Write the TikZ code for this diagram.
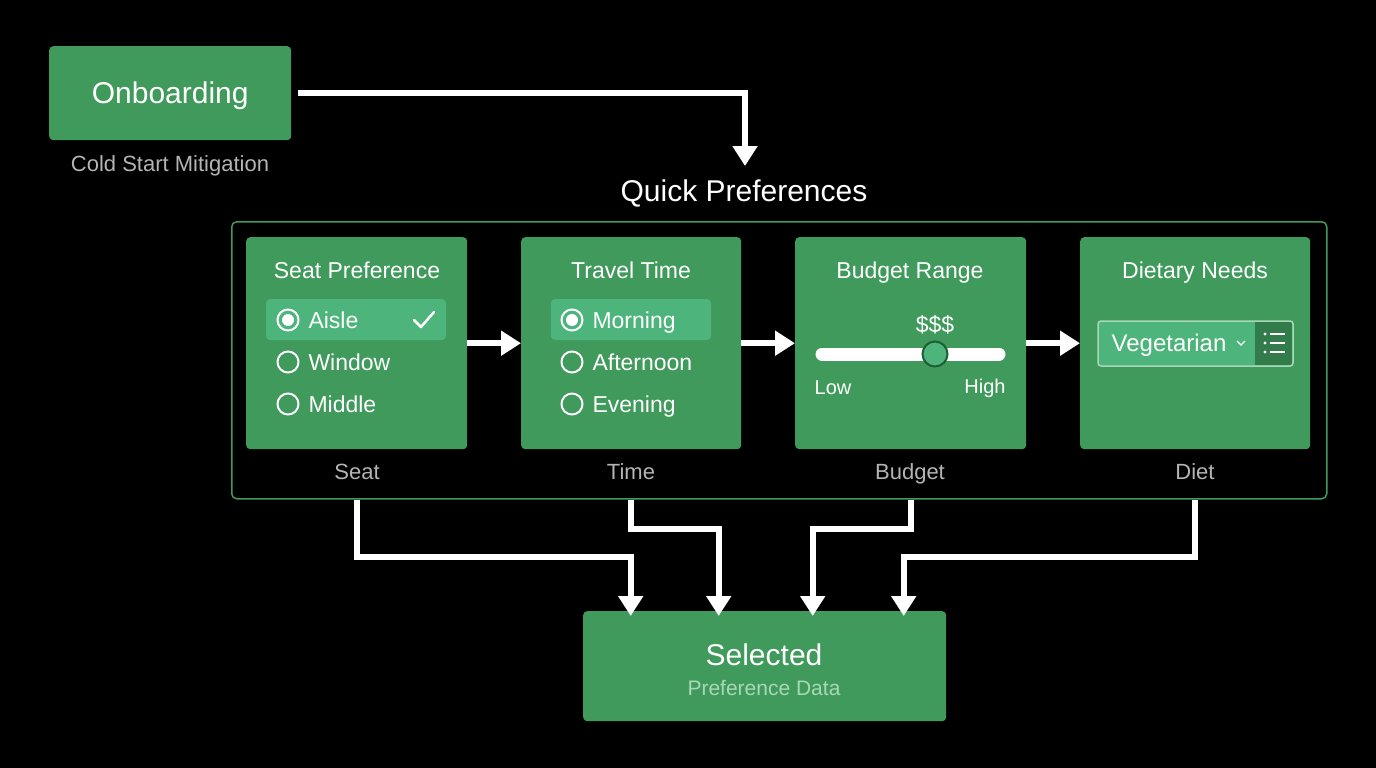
\documentclass[tikz,border=0pt]{standalone}
\usepackage{fontspec}
\setmainfont{Liberation Sans}
\usetikzlibrary{arrows.meta,positioning,calc}
\definecolor{cardgreen}{HTML}{3F9A5C}
\definecolor{hlgreen}{HTML}{4DB57B}
\definecolor{darkgreen}{HTML}{1F5E34}
\definecolor{softgray}{HTML}{B4B4B4}
\definecolor{palegreen}{HTML}{A8D8B5}
\tikzset{
  card/.style={fill=cardgreen, rounded corners=4pt, inner sep=0pt, anchor=north west},
  title/.style={text=white, font=\fontsize{23}{27}\selectfont, text height=20pt, text depth=3pt},
  option/.style={text=white, font=\fontsize{23}{27}\selectfont, anchor=west, text height=20pt, text depth=3pt},
  caption/.style={text=softgray, font=\fontsize{22}{26}\selectfont, text height=20pt, text depth=3pt},
  radio/.style={draw=white, line width=2pt, circle, minimum size=21pt, inner sep=0pt},
  flow/.style={draw=white, line width=6pt, -{Triangle[width=24pt,length=20pt]}},
}
\begin{document}
\begin{tikzpicture}[x=1pt,y=-1pt]
    \fill[black] (0,0) rectangle (1376,768);
    \useasboundingbox (0,0) rectangle (1376,768);

    % top: onboarding
    \node[card, minimum width=242pt, minimum height=94pt] (onb) at (49,46) {};
    \node[text=white, font=\fontsize{30}{35}\selectfont] at ([yshift=-3pt]onb.center) {Onboarding};
    \node[caption] (cold) at (170,163) {Cold Start Mitigation};
    \node[text=white, font=\fontsize{30}{35}\selectfont] (qp) at (744,193) {Quick Preferences};
    \coordinate (qpin) at (745,166);
    \draw[flow] ([xshift=7pt]onb.east) -| (qpin);

    % container and cards
    \node[draw=cardgreen, line width=1.5pt, rounded corners=5pt, minimum width=1095pt, minimum height=277pt, anchor=north west] (frame) at (231,221) {};
    \node[card, minimum width=221pt, minimum height=212pt] (seat) at (246,237) {};
    \node[card, minimum width=220pt, minimum height=212pt] (time) at (521,237) {};
    \node[card, minimum width=231pt, minimum height=212pt] (budget) at (795,237) {};
    \node[card, minimum width=230pt, minimum height=212pt] (diet) at (1080,237) {};

    \node[title] at (357,270) {Seat Preference};
    \node[title] at (631,270) {Travel Time};
    \node[title] at (910,270) {Budget Range};
    \node[title] at (1195,270) {Dietary Needs};

    \node[caption] at (357,471) {Seat};
    \node[caption] at (631,471) {Time};
    \node[caption] at (910,471) {Budget};
    \node[caption] at (1195,471) {Diet};

    % seat options
    \fill[hlgreen, rounded corners=4pt] (266,299) rectangle (446,340);
    \foreach \y/\t in {320/Aisle,362/Window,404/Middle} {
        \node[radio] (s\y) at (288,\y) {};
        \node[option] at (305,\y) {\t};
    }
    \fill[white] (s320) circle (6pt);
    \draw[white, line width=2.5pt, line cap=round, line join=round] (414,320) -- (421,327) -- (434,312);

    % time options
    \fill[hlgreen, rounded corners=4pt] (551,299) rectangle (711,340);
    \foreach \y/\t in {320/Morning,362/Afternoon,404/Evening} {
        \node[radio] (t\y) at (572,\y) {};
        \node[option] at (589,\y) {\t};
    }
    \fill[white] (t320) circle (6pt);

    % budget slider
    \node[text=white, font=\fontsize{23}{27}\selectfont] at (935,325) {\$\$\$};
    \draw[white, line width=13pt, line cap=round] (822,354) -- (999,354);
    \node[circle, fill=hlgreen, draw=darkgreen, line width=2pt, minimum size=25pt, inner sep=0pt] (knob) at (935,354) {};
    \node[text=white, font=\fontsize{20}{24}\selectfont] at (833,388) {Low};
    \node[text=white, font=\fontsize{20}{24}\selectfont] at (985,388) {High};

    % diet dropdown
    \fill[hlgreen, rounded corners=3pt] (1098,321) rectangle (1293,366);
    \fill[cardgreen!80!black] (1255,322) rectangle (1292,365);
    \draw[palegreen, line width=1.5pt, rounded corners=3pt] (1098,321) rectangle (1293,366);
    \node[text=white, font=\fontsize{24}{28}\selectfont, text height=20pt, text depth=3pt] (veg) at (1169,343) {Vegetarian};
    \draw[white, line width=1.3pt] (1237,341) -- (1241,345) -- (1245,341);
    \foreach \y in {334,343,352} {
        \fill[white] (1265,\y) circle (1.7pt);
        \draw[white, line width=1.8pt] (1270,\y) -- (1285,\y);
    }

    % arrows between cards
    \draw[flow] (seat.east) -- (time.west);
    \draw[flow] (time.east) -- (budget.west);
    \draw[flow] (budget.east) -- (diet.west);

    % result box
    \node[card, minimum width=363pt, minimum height=110pt] (sel) at (583,611) {};
    \node[text=white, font=\fontsize{30}{35}\selectfont] at (764,655) {Selected};
    \node[text=palegreen, font=\fontsize{21}{25}\selectfont] at (764,688) {Preference Data};

    % arrows into result
    \draw[flow] (seat.south |- frame.south) -- ++(0,57) -| ([xshift=-134pt,yshift=-5pt]sel.north);
    \draw[flow] (time.south |- frame.south) -- ++(0,29) -| ([xshift=-46pt,yshift=-5pt]sel.north);
    \draw[flow] (budget.south |- frame.south) -- ++(0,29) -| ([xshift=48pt,yshift=-5pt]sel.north);
    \draw[flow] (diet.south |- frame.south) -- ++(0,57) -| ([xshift=139pt,yshift=-5pt]sel.north);
\end{tikzpicture}
\end{document}
